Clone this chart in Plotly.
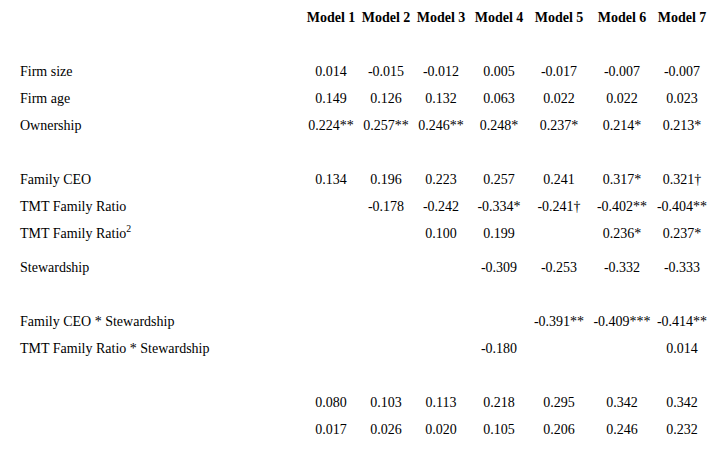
import plotly.graph_objects as go

header = ["Dependent variable: ROAPath coefficientsn=64", "Model 1", "Model 2", "Model 3",
          "Model 4", "Model 5", "Model 6", "Model 7"]

row_labels = ["Controls", "Firm size", "Firm age", "Ownership", "Independent variables",
              "Family CEO", "TMT Family Ratio", "TMT Family Ratio<sup>2</sup>", "Stewardship",
              "Interactions Stewardship", "Family CEO * Stewardship",
              "TMT Family Ratio * Stewardship", "", "R2", "Adj R2"]
indented = [False, True, True, True, False, True, True, True, True, False, True, True, False, False, False]

firm_size = ["0.014", "-0.015", "-0.012", "0.005", "-0.017", "-0.007", "-0.007"]
firm_age = ["0.149", "0.126", "0.132", "0.063", "0.022", "0.022", "0.023"]
ownership = ["0.224**", "0.257**", "0.246**", "0.248*", "0.237*", "0.214*", "0.213*"]
family_ceo = ["0.134", "0.196", "0.223", "0.257", "0.241", "0.317*", "0.321\u2020"]
tmt_ratio = ["", "-0.178", "-0.242", "-0.334*", "-0.241\u2020", "-0.402**", "-0.404**"]
tmt_ratio_sq = ["", "", "0.100", "0.199", "", "0.236*", "0.237*"]
stewardship = ["", "", "", "-0.309", "-0.253", "-0.332", "-0.333"]
ceo_x_stew = ["", "", "", "", "-0.391**", "-0.409***", "-0.414**"]
tmt_x_stew = ["", "", "", "-0.180", "", "", "0.014"]
r2 = ["0.080", "0.103", "0.113", "0.218", "0.295", "0.342", "0.342"]
adj_r2 = ["0.017", "0.026", "0.020", "0.105", "0.206", "0.246", "0.232"]

values = [None, firm_size, firm_age, ownership, None, family_ceo, tmt_ratio, tmt_ratio_sq,
          stewardship, None, ceo_x_stew, tmt_x_stew, None, r2, adj_r2]

# layout (pixel positions in the page)
header_y = 18
row_y = [45, 72, 99, 126, 153, 180, 207, 234, 268, 295, 322, 349, 376, 403, 430]
col_x = [331, 386, 441, 499, 559, 622, 682]
font = "Liberation Serif"

fig = go.Figure()

fig.add_trace(go.Scatter(x=[4], y=[header_y], text=[f"<b>{header[0]}</b>"], mode="text",
                         textposition="middle right"))
fig.add_trace(go.Scatter(x=col_x, y=[header_y] * 7, text=[f"<b>{h}</b>" for h in header[1:]],
                         mode="text", textposition="middle center"))
fig.add_trace(go.Scatter(x=[20 if ind else 4 for ind in indented], y=row_y, text=row_labels,
                         mode="text", textposition="middle right"))

vx, vy, vt = [], [], []
for y, vals in zip(row_y, values):
    if vals:
        for x, v in zip(col_x, vals):
            vx.append(x); vy.append(y); vt.append(v)
fig.add_trace(go.Scatter(x=vx, y=vy, text=vt, mode="text", textposition="middle center"))

fig.update_traces(textfont=dict(family=font, size=14, color="black"), hoverinfo="skip",
                  cliponaxis=False)
# page body has an 8px margin, so the axes are offset by it
fig.update_xaxes(range=[8, 715], visible=False, fixedrange=True)
fig.update_yaxes(range=[466, 8], visible=False, fixedrange=True)
fig.update_layout(width=707, height=458, margin=dict(l=0, r=0, t=0, b=0),
                  showlegend=False, plot_bgcolor="white", paper_bgcolor="white")

fig.write_html("out.html", config={"displayModeBar": False})
